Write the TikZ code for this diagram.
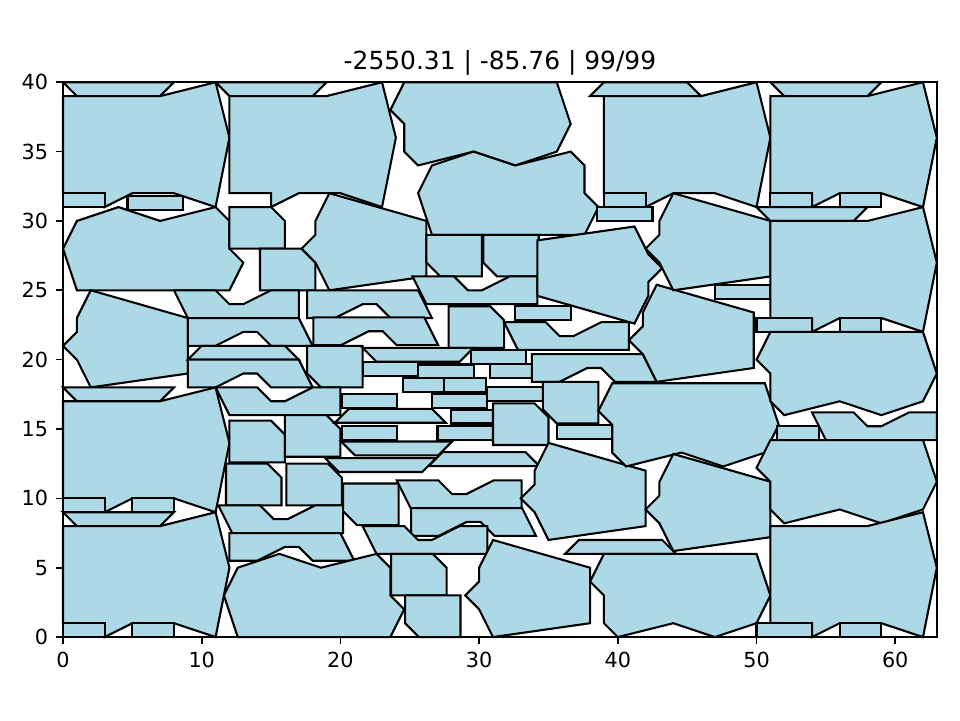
\documentclass[tikz,border=0pt]{standalone}
\usepackage{fontspec}
\setmainfont{DejaVu Sans}
\definecolor{piecefill}{HTML}{ADD8E6}

% piece outlines, #1 #2 = offset of the lower left corner
\newcommand{\pieceB}[2]{\draw[piece, shift={(#1,#2)}] (0,1) -- (3,1) -- (3,0) -- (5,1) -- (8,1) -- (11,0) -- (12,5) -- (11,9) -- (7,8) -- (0,8) -- cycle;}
\newcommand{\pieceE}[2]{\draw[piece, shift={(#1,#2)}] (0,3) -- (1,5) -- (4,6) -- (7,5) -- (11,6) -- (12,5) -- (12,3) -- (13,2) -- (12,0) -- (1,0) -- cycle;}
\newcommand{\pieceEr}[2]{\draw[piece, shift={(#1,#2)}] (13,3) -- (12,1) -- (9,0) -- (6,1) -- (2,0) -- (1,1) -- (1,3) -- (0,4) -- (1,6) -- (12,6) -- cycle;}
\newcommand{\pieceF}[2]{\draw[piece, shift={(#1,#2)}] (2,7) -- (1,5) -- (1,4) -- (0,3) -- (1,2) -- (2,0) -- (9,1) -- (9,5) -- cycle;}
\newcommand{\pieceFr}[2]{\draw[piece, shift={(#1,#2)}] (7,0) -- (8,2) -- (8,3) -- (9,4) -- (8,5) -- (7,7) -- (0,6) -- (0,2) -- cycle;}
\newcommand{\pieceC}[2]{\draw[piece, shift={(#1,#2)}] (0,0) -- (0,3) -- (3,3) -- (4,2) -- (4,0) -- cycle;}
\newcommand{\pieceCr}[2]{\draw[piece, shift={(#1,#2)}] (0,1) -- (0,3) -- (4,3) -- (4,0) -- (1,0) -- cycle;}
\newcommand{\pieceN}[2]{\draw[piece, shift={(#1,#2)}] (0,2) -- (3,2) -- (4,1) -- (5,1) -- (7,2) -- (9,2) -- (9,0) -- (1,0) -- cycle;}
\newcommand{\pieceNr}[2]{\draw[piece, shift={(#1,#2)}] (0,0) -- (0,2) -- (8,2) -- (9,0) -- (6,0) -- (5,1) -- (4,1) -- (2,0) -- cycle;}
\newcommand{\pieceT}[2]{\draw[piece, shift={(#1,#2)}] (0,1) -- (8,1) -- (7,0) -- (1,0) -- cycle;}
\newcommand{\pieceTf}[2]{\draw[piece, shift={(#1,#2)}] (0,0) -- (8,0) -- (7,1) -- (1,1) -- cycle;}
\newcommand{\pieceS}[2]{\draw[piece, shift={(#1,#2)}] (0,0) rectangle (3,1);}
\newcommand{\pieceL}[2]{\draw[piece, shift={(#1,#2)}] (0,0) rectangle (4,1);}

\begin{document}
\begin{tikzpicture}[x=0.23487cm, y=0.23487cm]
    \tikzstyle{piece}=[draw=black, fill=piecefill, line width=1pt, line join=miter]
    \tikzstyle{axisline}=[draw=black, line width=0.8pt]
    \tikzstyle{ticklabel}=[inner sep=0pt, font=\fontsize{10}{12}\selectfont]

    \useasboundingbox (-4.542,-5.984) rectangle (64.67,45.93);

    % Left column
    \pieceT{0}{39}
    \pieceB{0}{31}
    \pieceS{0}{31}
    \pieceL{4.65}{30.8}
    \pieceE{0}{25}
    \pieceF{0}{18}
    \pieceT{0}{17}
    \pieceB{0}{9}
    \pieceS{0}{9}
    \pieceS{5}{9}
    \pieceT{0}{8}
    \pieceB{0}{0}
    \pieceS{0}{0}
    \pieceS{5}{0}

    % Second column
    \pieceT{11}{39}
    \pieceB{12}{31}
    \pieceC{12}{28}
    \pieceC{14.2}{25}
    \pieceF{17.2}{25}
    \pieceN{8}{23}
    \pieceNr{17.6}{23}
    \pieceNr{18.05}{21.05}
    \pieceNr{9}{21}
    \pieceTf{9}{20}
    \pieceNr{9}{18}
    \pieceCr{17.6}{18}
    \pieceN{11}{16}
    \pieceC{12}{12.6}
    \pieceC{16}{13}
    \pieceC{11.75}{9.5}
    \pieceC{16.1}{9.5}
    \pieceN{11.2}{7.5}
    \pieceNr{12}{5.5}
    \pieceE{11.6}{0}

    % Middle
    \pieceEr{23.6}{34}
    \pieceE{25.6}{29}
    \pieceCr{26.2}{26}
    \pieceCr{30.3}{26}
    \pieceN{25.2}{24}
    \pieceC{27.8}{20.85}
    \pieceT{21.6}{19.85}
    \pieceL{21.6}{18.8}
    \pieceL{25.6}{18.65}
    \pieceL{29.4}{19.7}
    \pieceS{30.8}{18.7}
    \pieceS{24.5}{17.65}
    \pieceS{27.5}{17.65}
    \pieceL{20.1}{16.5}
    \pieceL{26.6}{16.5}
    \pieceL{30.6}{17}
    \pieceTf{19.6}{15.45}
    \pieceS{28}{15.4}
    \pieceL{20.1}{14.2}
    \pieceL{27}{14.2}
    \pieceT{20.05}{13.1}
    \pieceT{18.9}{11.9}
    \pieceTf{26.35}{12.33}
    \pieceC{31}{13.85}
    \pieceCr{20.2}{8.07}
    \pieceN{24.06}{9.3}
    \pieceNr{25.1}{7.3}
    \pieceN{21.6}{6}
    \pieceC{23.66}{3}
    \pieceCr{24.66}{0}
    \pieceF{29}{0}
    \pieceF{33}{7}

    % Right middle
    \pieceFr{34.2}{22.6}
    \pieceL{32.6}{22.85}
    \pieceN{31.8}{20.7}
    \pieceNr{33.8}{18.4}
    \pieceCr{34.6}{15.4}
    \pieceL{35.6}{14.3}
    \pieceEr{38.6}{12.3}
    \pieceF{40.8}{18.4}
    \pieceF{42}{25}
    \pieceTf{38}{39}
    \pieceB{39}{31}
    \pieceS{39}{31}
    \pieceL{38.5}{30}
    \pieceTf{36.2}{6}
    \pieceEr{38}{0}
    \pieceF{42}{6.2}

    % Right column
    \pieceT{51}{39}
    \pieceB{51}{31}
    \pieceS{51}{31}
    \pieceS{56}{31}
    \pieceT{50}{30}
    \pieceL{47}{24.4}
    \pieceB{51}{22}
    \pieceL{50}{22}
    \pieceS{56}{22}
    \pieceEr{50}{16}
    \pieceN{54}{14.2}
    \pieceS{51.5}{14.2}
    \pieceEr{50}{8.2}
    \pieceB{51}{0}
    \pieceL{50}{0}
    \pieceS{56}{0}

    % Axes, ticks and labels
    \draw[axisline] (0,0) rectangle (63,40);
    \foreach \x in {0,10,...,60} {
        \draw[axisline] (\x,0) -- (\x,-0.526);
        \node[ticklabel, anchor=north] (xlab\x) at (\x,-1.05) {\x};
    }
    \foreach \y in {0,5,...,40} {
        \draw[axisline] (0,\y) -- (-0.526,\y);
        \node[ticklabel, anchor=east] (ylab\y) at (-1.05,\y) {\y};
    }
    \node[inner sep=0pt, anchor=base, font=\fontsize{12}{14}\selectfont] (title) at (31.5,40.92) {-2550.31 | -85.76 | 99/99};
\end{tikzpicture}
\end{document}
